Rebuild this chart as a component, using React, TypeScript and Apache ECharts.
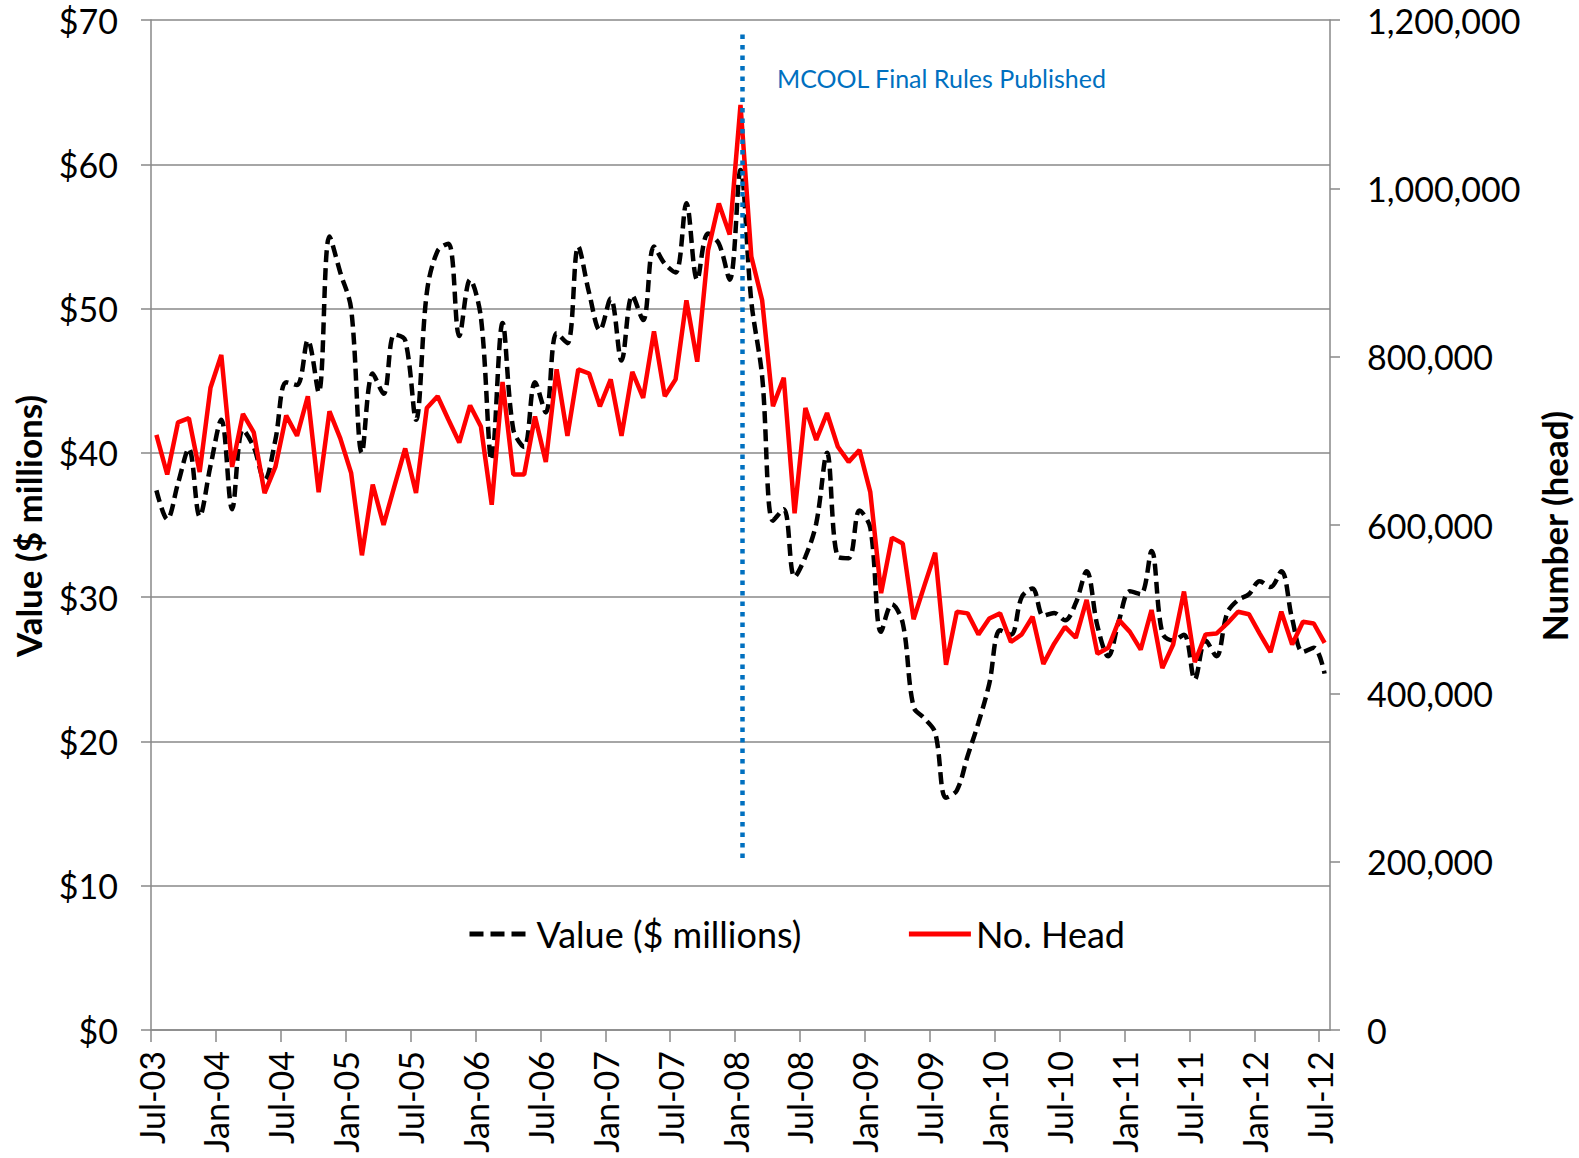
import React, { useEffect, useRef } from "react";
import * as echarts from "echarts";

// Tick labels every 6 months along the bottom axis (Jul-03 ... Jul-12)
const TICK_LABELS = [
  "Jul-03", "Jan-04", "Jul-04", "Jan-05", "Jul-05", "Jan-06", "Jul-06",
  "Jan-07", "Jul-07", "Jan-08", "Jul-08", "Jan-09", "Jul-09", "Jan-10",
  "Jul-10", "Jan-11", "Jul-11", "Jan-12", "Jul-12",
];
const MONTHS_SHOWN = 109; // Jul-03 .. Jul-12, monthly

// Monthly value, $ millions (left axis)
const VALUE_MILLIONS = [
  37.4, 35.4, 37.9, 40.3, 35.6, 39.1, 42.3, 36.1, 41.6, 40.4,
  38.1, 40.9, 44.9, 44.7, 47.8, 44.2, 55.0, 52.5, 50.0, 40.0,
  45.5, 44.1, 48.2, 47.8, 42.3, 51.1, 54.0, 54.5, 48.1, 52.0,
  49.4, 39.5, 49.0, 41.6, 40.4, 44.9, 42.8, 48.3, 47.6, 54.3,
  51.1, 48.5, 50.7, 46.4, 50.9, 49.2, 54.3, 53.1, 52.5, 57.3,
  52.0, 55.2, 54.5, 52.0, 59.6, 50.5, 45.3, 35.3, 36.1, 31.4,
  32.8, 35.1, 40.0, 32.8, 32.7, 36.0, 34.8, 27.6, 29.5, 28.2,
  22.4, 21.6, 20.6, 16.1, 16.6, 19.0, 21.3, 24.0, 27.7, 27.4,
  30.0, 30.6, 28.7, 28.9, 28.4, 29.6, 31.8, 28.0, 25.9, 28.4,
  30.4, 30.2, 33.2, 27.5, 27.0, 27.4, 24.3, 27.0, 25.9, 28.9,
  29.8, 30.2, 31.1, 30.7, 31.8, 28.5, 26.2, 26.5, 24.7,
];

// Monthly number of head (right axis)
const NO_HEAD = [
  707000, 660000, 722000, 727000, 663000, 763000, 802000, 669000, 732000, 710000,
  638000, 669000, 730000, 706000, 753000, 639000, 735000, 703000, 662000, 564000,
  648000, 600000, 646000, 691000, 638000, 739000, 753000, 725000, 698000, 742000,
  717000, 624000, 770000, 660000, 660000, 729000, 675000, 785000, 706000, 785000,
  780000, 741000, 773000, 706000, 782000, 751000, 830000, 753000, 773000, 867000,
  794000, 926000, 982000, 945000, 1099000, 919000, 867000, 741000, 775000, 614000,
  739000, 701000, 733000, 693000, 675000, 689000, 639000, 519000, 585000, 578000,
  488000, 528000, 567000, 434000, 497000, 495000, 470000, 489000, 495000, 461000,
  470000, 491000, 435000, 459000, 479000, 466000, 511000, 447000, 454000, 487000,
  473000, 452000, 499000, 430000, 458000, 521000, 437000, 470000, 471000, 483000,
  497000, 494000, 471000, 449000, 497000, 458000, 485000, 483000, 460000,
];

// Annotation: MCOOL final rules published (month position and vertical span in $ millions)
const MCOOL_MONTH = 54.65;
const MCOOL_SPAN = [69.0, 11.7];
const MCOOL_TEXT = "MCOOL Final Rules Published";

const FONT = "Lato";
const GRAY = "#898989";

export default function App() {
  const ref = useRef<HTMLDivElement>(null);
  useEffect(() => {
    document.body.style.margin = "0";
    const chart = echarts.init(ref.current!, null, { renderer: "svg" });
    const valueData = VALUE_MILLIONS.map((v, i) => [i + 0.5, v]);
    const headData = NO_HEAD.map((v, i) => [i + 0.5, v]);
    const option: any = {
      animation: false,
      backgroundColor: "#ffffff",
      grid: { left: 151, right: 249, top: 20, bottom: 128 },
      legend: {
        data: [
          { name: "Value ($ millions)", lineStyle: { type: [14, 7] } },
          { name: "No. Head", lineStyle: { type: "solid" } },
        ],
        left: 462,
        top: 911,
        itemWidth: 62,
        itemHeight: 14,
        itemGap: 105,
        itemStyle: { opacity: 0 },
        lineStyle: { width: 5 },
        textStyle: { fontFamily: FONT, fontSize: 36, color: "#000" },
      },
      xAxis: {
        type: "value",
        min: 0,
        max: MONTHS_SHOWN,
        interval: 6,
        axisLine: { show: true, lineStyle: { color: GRAY, width: 1.5 } },
        axisTick: { show: true, length: 12, lineStyle: { color: GRAY, width: 1.5 } },
        splitLine: { show: false },
        axisLabel: {
          rotate: 90,
          margin: 21,
          fontFamily: FONT,
          fontSize: 34,
          color: "#000",
          showMaxLabel: false,
          formatter: (v: number) => (v % 6 === 0 ? TICK_LABELS[v / 6] ?? "" : ""),
        },
      },
      yAxis: [
        {
          type: "value",
          position: "left",
          min: 0,
          max: 70,
          interval: 10,
          axisLine: { show: true, lineStyle: { color: GRAY, width: 1.5 } },
          axisTick: { show: true, length: 10, lineStyle: { color: GRAY, width: 1.5 } },
          splitLine: { show: true, lineStyle: { color: GRAY, width: 1.5 } },
          axisLabel: {
            margin: 33,
            fontFamily: FONT,
            fontSize: 34,
            color: "#000",
            formatter: (v: number) => "$" + v,
          },
        },
        {
          type: "value",
          position: "right",
          min: 0,
          max: 1200000,
          interval: 200000,
          axisLine: { show: true, lineStyle: { color: GRAY, width: 1.5 } },
          axisTick: { show: true, length: 10, lineStyle: { color: GRAY, width: 1.5 } },
          splitLine: { show: false },
          axisLabel: {
            margin: 37,
            fontFamily: FONT,
            fontSize: 34,
            color: "#000",
            formatter: (v: number) => v.toLocaleString("en-US"),
          },
        },
      ],
      series: [
        {
          name: "Value ($ millions)",
          type: "line",
          yAxisIndex: 0,
          data: valueData,
          symbol: "none",
          smooth: 0.35,
          color: "#000",
          lineStyle: { color: "#000", width: 4.5, type: [12, 6] },
          z: 2,
          markLine: {
            silent: true,
            symbol: ["none", "none"],
            label: { show: false },
            lineStyle: { color: "#0070C0", width: 4.5, type: [4.5, 6] },
            data: [
              [
                { coord: [MCOOL_MONTH, MCOOL_SPAN[0]] },
                { coord: [MCOOL_MONTH, MCOOL_SPAN[1]] },
              ],
            ],
            z: 10,
          },
        },
        {
          name: "No. Head",
          type: "line",
          yAxisIndex: 1,
          data: headData,
          symbol: "none",
          color: "#FF0000",
          lineStyle: { color: "#FF0000", width: 4.5 },
          z: 3,
        },
      ],
      graphic: [
        {
          type: "text",
          x: 777,
          y: 78,
          style: {
            text: MCOOL_TEXT,
            fontFamily: FONT,
            fontSize: 25,
            fill: "#0070C0",
            align: "left",
            verticalAlign: "middle",
          },
        },
        {
          type: "text",
          x: 28,
          y: 526,
          rotation: Math.PI / 2,
          style: {
            text: "Value ($ millions)",
            fontFamily: FONT,
            fontWeight: "bold",
            fontSize: 35,
            fill: "#000",
            align: "center",
            verticalAlign: "middle",
          },
        },
        {
          type: "text",
          x: 1554,
          y: 526,
          rotation: Math.PI / 2,
          style: {
            text: "Number (head)",
            fontFamily: FONT,
            fontWeight: "bold",
            fontSize: 35,
            fill: "#000",
            align: "center",
            verticalAlign: "middle",
          },
        },
      ],
    };
    chart.setOption(option);
    return () => chart.dispose();
  }, []);
  return <div ref={ref} style={{ width: 1579, height: 1158 }} />;
}
